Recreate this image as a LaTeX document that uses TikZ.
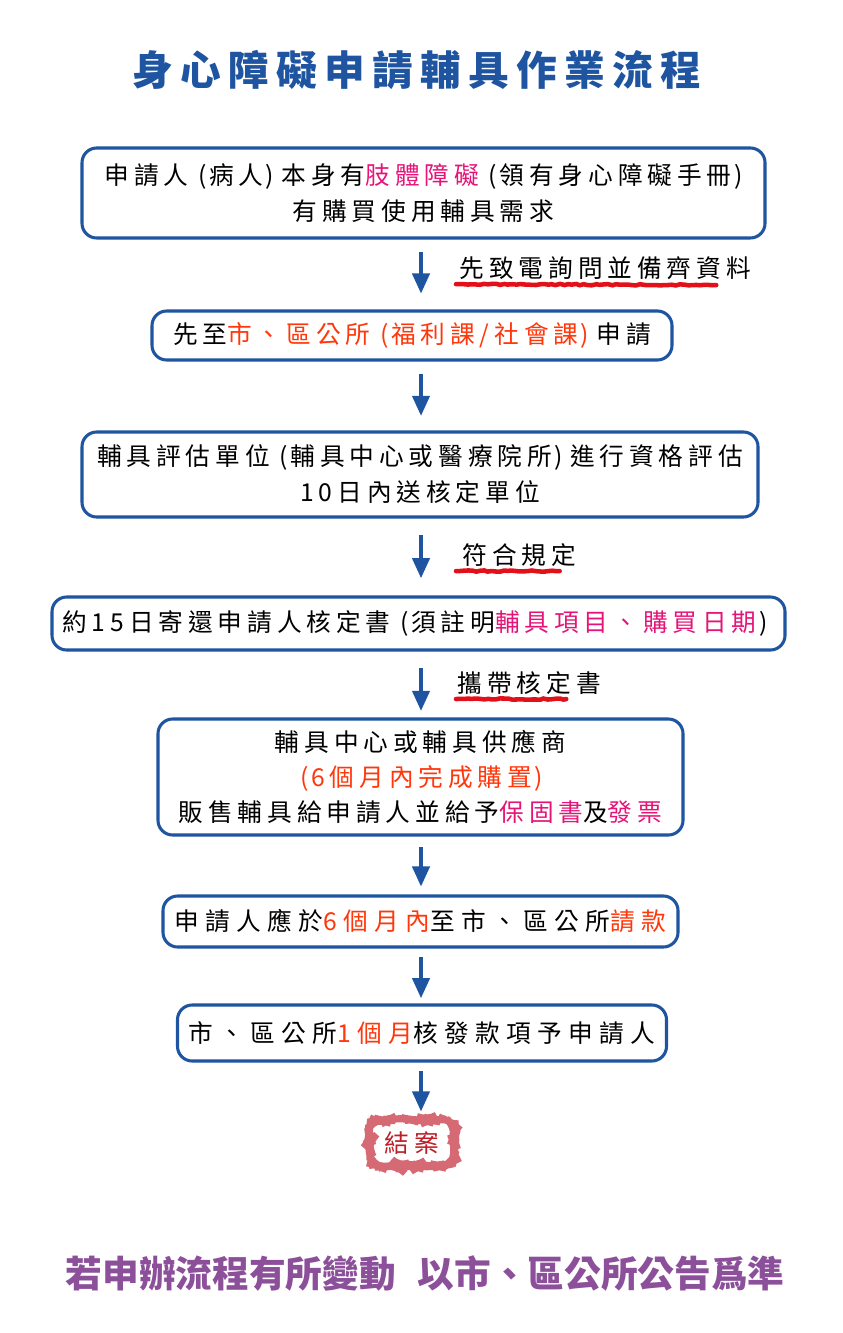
\documentclass[tikz,border=0pt]{standalone}
\usepackage{fontspec}
\usetikzlibrary{arrows.meta}
\usetikzlibrary{calc}
\usetikzlibrary{decorations.pathmorphing}
\newfontfamily\cjk[LetterSpace=20]{Noto Sans CJK TC}
\newfontfamily\cjkwide[LetterSpace=26]{Noto Sans CJK TC}
\newfontfamily\cjkhead[LetterSpace=18]{Noto Sans CJK TC}
\newfontfamily\cjkplain{Noto Sans CJK TC}
\definecolor{boxblue}{RGB}{30,84,160}
\definecolor{hotred}{RGB}{255,55,10}
\definecolor{hotpink}{RGB}{230,20,120}
\definecolor{brushred}{RGB}{226,16,24}
\definecolor{stampred}{RGB}{214,106,116}
\definecolor{stamptext}{RGB}{190,30,40}
\definecolor{notepurple}{RGB}{140,80,155}
\newcommand{\px}{0.75pt}
\newcommand{\hr}[1]{\textcolor{hotred}{#1}}
\newcommand{\hp}[1]{\textcolor{hotpink}{#1}}
\newcommand{\lp}{\hspace{0.4em}(\hspace{0.1em}}
\newcommand{\rp}{\hspace{0.1em})\hspace{0.3em}}

\begin{document}
\begin{tikzpicture}[
  x=0.75pt, y=-0.75pt,
  stepbox/.style={draw=boxblue, line width=2.3pt, rounded corners=11pt, fill=white,
    align=center, inner sep=0pt, font=\cjk\fontsize{18.5}{27}\selectfont},
  flow/.style={draw=boxblue, line width=2.4pt, -{Triangle[width=13pt,length=15pt]}},
  note/.style={anchor=west, inner sep=1pt, font=\cjk\fontsize{18.5}{22}\selectfont},
  brush/.style={draw=brushred, line width=3.4pt, line cap=round,
    decorate, decoration={random steps, segment length=3pt, amplitude=0.5pt}},
  stamp/.style={draw=stampred, line width=5pt, rounded corners=8pt, text=stamptext,
    decorate, decoration={random steps, segment length=3pt, amplitude=1pt},
    font=\cjk\fontsize{18.5}{22}\selectfont}
]
\useasboundingbox (0,0) rectangle (842,1333);
\fill[white] (0,0) rectangle (842,1333);

% Title
\node[font=\cjkhead\bfseries\fontsize{30.5}{36}\selectfont, text=boxblue] (title) at (417,70)
  {身心障礙申請輔具作業流程};

% Steps
\node[stepbox, minimum width=683*\px, minimum height=90*\px] (apply) at (423.5,193)
  {申請人\lp 病人\rp 本身有\hp{肢體障礙}\lp 領有身心障礙手冊\rp\\有購買使用輔具需求};
\node[stepbox, minimum width=520*\px, minimum height=49*\px] (office) at (412,335.5)
  {先至\hr{市、區公所\lp 福利課/社會課\rp}申請};
\node[stepbox, minimum width=676*\px, minimum height=85*\px] (assess) at (420,474.5)
  {輔具評估單位\lp 輔具中心或醫療院所\rp 進行資格評估\\10日內送核定單位};
\node[stepbox, minimum width=733*\px, minimum height=53*\px] (notice) at (418.5,623.5)
  {約15日寄還申請人核定書\lp 須註明\hp{輔具項目、購買日期}\rp};
\node[stepbox, minimum width=525*\px, minimum height=116*\px, font=\cjk\fontsize{18.5}{26}\selectfont] (vendor) at (420.5,777)
  {輔具中心或輔具供應商\\\hr{\lp 6個月內完成購置\rp}\\販售輔具給申請人並給予\hp{保固書}及\hp{發票}};
\node[stepbox, minimum width=515*\px, minimum height=51*\px, font=\cjkwide\fontsize{18.5}{22}\selectfont] (claim) at (420.5,921.5)
  {申請人應於\hr{6個月內}至市、區公所\hr{請款}};
\node[stepbox, minimum width=489*\px, minimum height=56*\px, font=\cjkwide\fontsize{18.5}{22}\selectfont] (pay) at (422,1033)
  {市、區公所\hr{1個月}核發款項予申請人};
\node[stamp, minimum width=84*\px, minimum height=46*\px] (close) at (412,1143) {結案};

% Connectors
\coordinate (ax) at (421,0);
\draw[flow, shorten <=9pt, shorten >=12pt] (apply.south -| ax) -- (office.north -| ax);
\draw[flow, shorten <=9pt, shorten >=11pt] (office.south -| ax) -- (assess.north -| ax);
\draw[flow, shorten <=12pt, shorten >=13pt] (assess.south -| ax) -- (notice.north -| ax);
\draw[flow, shorten <=12pt, shorten >=5pt] (notice.south -| ax) -- (vendor.north -| ax);
\draw[flow, shorten <=8pt, shorten >=6pt] (vendor.south -| ax) -- (claim.north -| ax);
\draw[flow, shorten <=6pt, shorten >=4pt] (claim.south -| ax) -- (pay.north -| ax);
\draw[flow, shorten <=6pt, shorten >=4pt] (pay.south -| ax) -- (close.north -| ax);

% Notes beside the arrows
\node[note] (ask) at (458,268) {先致電詢問並備齊資料};
\draw[brush] ($(ask.south west)+(-2,3)$) -- ($(ask.south east)+(-36,4)$);
\node[note] (pass) at (461,555) {符合規定};
\draw[brush] ($(pass.south west)+(-5,3)$) -- ($(pass.south east)+(-18,3)$);
\node[note] (carry) at (456,683) {攜帶核定書};
\draw[brush] ($(carry.south west)+(0,3)$) -- ($(carry.south east)+(-36,3)$);

% Remark
\node[font=\cjkplain\bfseries\fontsize{27.5}{34}\selectfont, text=notepurple] (remark) at (425,1273)
  {若申辦流程有所變動\hspace{0.6em}以市、區公所公告爲準};
\end{tikzpicture}
\end{document}
